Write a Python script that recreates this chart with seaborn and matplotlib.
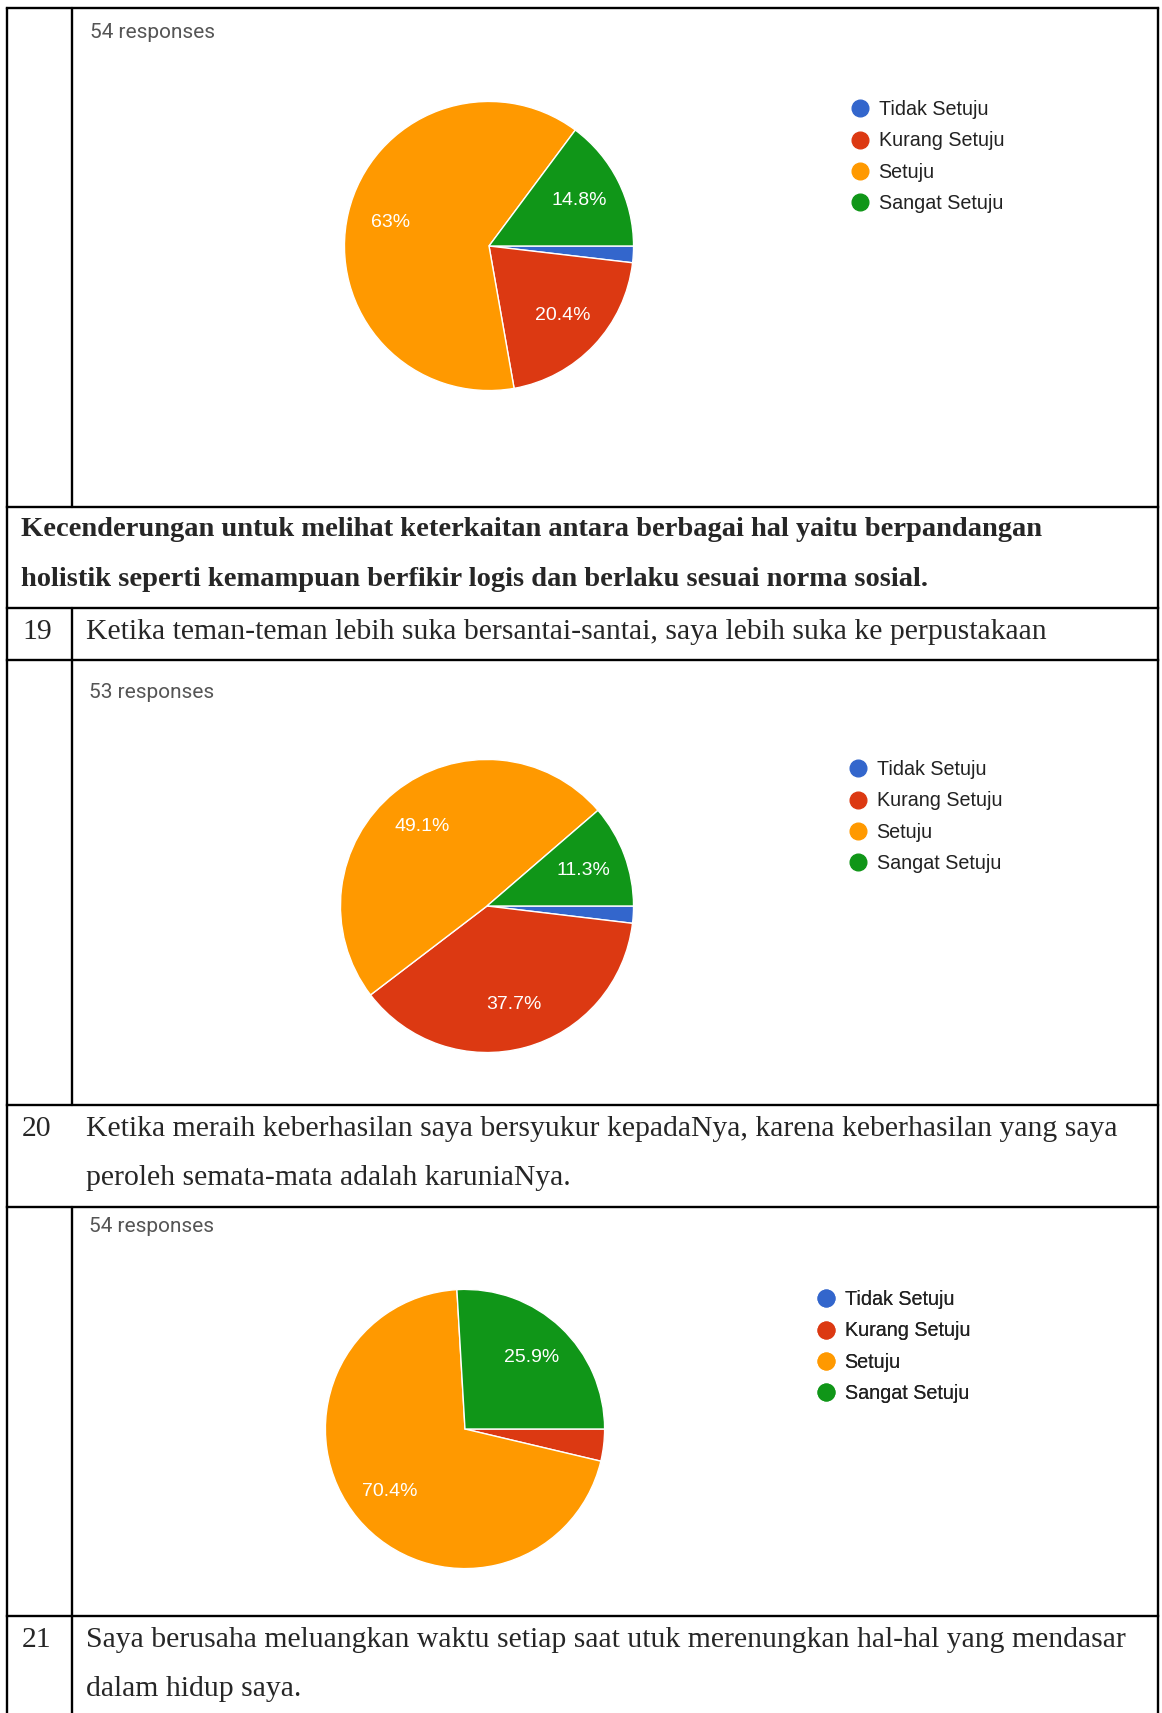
import matplotlib
matplotlib.use("Agg")
import matplotlib.pyplot as plt
from matplotlib.lines import Line2D
import seaborn as sns

# jawaban kuesioner (jumlah responden per kategori)
kategori = ["Tidak Setuju", "Kurang Setuju", "Setuju", "Sangat Setuju"]
jumlah_18 = [1, 11, 34, 8]     # 54 responses
jumlah_19 = [1, 20, 26, 6]     # 53 responses
jumlah_20 = [0, 2, 38, 14]     # 54 responses

warna = sns.color_palette(["#3366cc", "#dc3912", "#ff9900", "#109618"])

judul_aspek = ["Kecenderungan untuk melihat keterkaitan antara berbagai hal yaitu berpandangan",
               "holistik seperti kemampuan berfikir logis dan berlaku sesuai norma sosial."]
butir_19 = ["Ketika teman-teman lebih suka bersantai-santai, saya lebih suka ke perpustakaan"]
butir_20 = ["Ketika meraih keberhasilan saya bersyukur kepadaNya, karena keberhasilan yang saya",
            "peroleh semata-mata adalah karuniaNya."]
butir_21 = ["Saya berusaha meluangkan waktu setiap saat utuk merenungkan hal-hal yang mendasar",
            "dalam hidup saya."]

sns.set_theme(style="white")
plt.rcParams["font.family"] = ["Liberation Sans", "DejaVu Sans"]

W, H = 1162, 1713
fig = plt.figure(figsize=(W / 100, H / 100), dpi=100)

# lapisan dasar untuk garis tabel dan teks, koordinat piksel
base = fig.add_axes([0, 0, 1, 1])
base.set_xlim(0, W)
base.set_ylim(H, 0)
base.axis("off")

lw = 1.7
xl, xr, xin = 7, 1158, 72
for y in [8, 507, 608, 660, 1105, 1207, 1616]:
    base.plot([xl, xr], [y, y], color="black", lw=lw, solid_capstyle="projecting")
for x in [xl, xr]:
    base.plot([x, x], [8, H], color="black", lw=lw)
for y0, y1 in [(8, 507), (608, 1105), (1207, H)]:
    base.plot([xin, xin], [y0, y1], color="black", lw=lw)

serif = ["Liberation Serif", "DejaVu Serif"]
fs_tabel = 21.4
for i, baris in enumerate(judul_aspek):
    base.text(21, 529 + i * 50, baris, family=serif, fontsize=20.5,
              fontweight="bold", va="center", ha="left")

def tulis_butir(no, baris_list, y_top):
    base.text(22, y_top + 24, str(no), family=serif, fontsize=fs_tabel, va="center")
    for i, baris in enumerate(baris_list):
        base.text(86, y_top + 24 + i * 49, baris, family=serif, fontsize=fs_tabel, va="center")

tulis_butir(19, butir_19, 608)
tulis_butir(20, butir_20, 1105)
tulis_butir(21, butir_21, 1616)


def label_pct(p):
    if p < 5:
        return ""
    s = f"{p:.1f}"
    if s.endswith(".0"):
        s = s[:-2]
    return s + "%"


def gambar_pie(jumlah, cx, cy, r, resp_xy, leg_xy):
    ax = fig.add_axes([(cx - r) / W, 1 - (cy + r) / H, 2 * r / W, 2 * r / H])
    ax.pie(jumlah, colors=warna, startangle=0, counterclock=False,
           autopct=label_pct, pctdistance=0.7, radius=1,
           wedgeprops=dict(edgecolor="white", linewidth=1),
           textprops=dict(color="white", fontsize=14))
    ax.set_xlim(-1.01, 1.01)
    ax.set_ylim(-1.01, 1.01)
    ax.set_aspect("equal")
    ax.axis("off")

    base.text(resp_xy[0], resp_xy[1], f"{sum(jumlah)} responses", family=["Roboto", "DejaVu Sans"],
              fontsize=15, color="#555555", va="center", ha="left")

    handles = [Line2D([], [], marker="o", linestyle="", markersize=12, color=c) for c in warna]
    base.legend(handles, kategori, loc="upper left", bbox_to_anchor=leg_xy,
                bbox_transform=base.transData, frameon=False, borderpad=0,
                borderaxespad=0, handlelength=1.0, handletextpad=0.45,
                labelspacing=0.63, fontsize=14.2, labelcolor="#222222")
    base.add_artist(base.get_legend())


gambar_pie(jumlah_18, 489, 246, 146, (90, 32), (850, 100))
gambar_pie(jumlah_19, 487, 906, 148, (89, 692), (848, 760))
gambar_pie(jumlah_20, 465, 1429, 141, (89, 1226), (816, 1290))

plt.savefig("out.png", dpi=100)
plt.close()
